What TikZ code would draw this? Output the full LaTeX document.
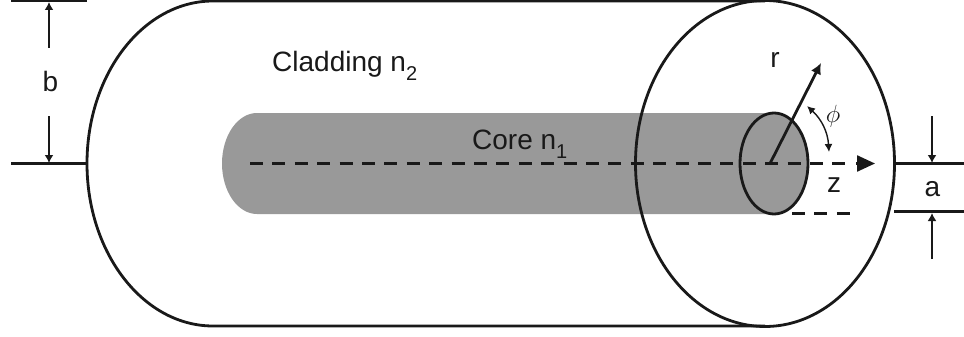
\documentclass[tikz,border=0pt]{standalone}
\usepackage{fontspec}
\setmainfont{Liberation Sans}
\usetikzlibrary{arrows.meta, shapes.geometric}
\newcommand{\subidx}[1]{\raisebox{-9pt}{\fontsize{20}{22}\selectfont #1}}
\tikzset{
	wall/.style={line width=2.8pt, black!90},
	ring/.style={draw, ellipse, line width=2.8pt, black!90, inner sep=0pt},
	dim/.style={line width=2.2pt, black!90, -{Latex[length=8pt, width=9pt]}},
	axis/.style={line width=3pt, black!90, dash pattern=on 13pt off 9.4pt},
	tag/.style={font=\fontsize{28}{30}\selectfont, inner sep=0pt, text=black!90},
}
\begin{document}
\begin{tikzpicture}[x=1pt, y=-1pt]
		\useasboundingbox (0,0) rectangle (964,337);
		% core
		\fill [black!40] (774,113) -- (257,113)
		arc [start angle=90, end angle=270, x radius=35, y radius=-50.5] -- (774,214) -- cycle;
		% cladding
		\draw [wall] (765,1) -- (213,1) arc [start angle=90, end angle=270, x radius=126, y radius=-162.5] -- (765,326);
		\node (shell) at (765,163.5) [ring, minimum width=259pt, minimum height=326pt] {};
		\node (fibre) at (774,163.5) [ring, fill=black!40, minimum width=68pt, minimum height=101pt] {};
		% axes
		\coordinate (o) at (770,163.5);
		\draw [axis] (250,163.5) -- (847,163.5);
		\draw [black!90, -{Triangle[length=18pt, width=16pt]}, line width=2.4pt] (856,163.5) -- (875,163.5);
		\draw [axis] (792,213) -- (850,213);
		\draw [line width=2.8pt, black!90, -{Latex[length=11pt, width=11pt]}] (o) -- (821,63);
		\draw [line width=1.4pt, black!90, {Latex[length=8pt, width=8pt]}-{Latex[length=8pt, width=8pt]}] (807,106) to [bend left=22] (829,152);
		% dimension a
		\draw [wall] (shell.east) -- ++(70,0);
		\coordinate (alow) at (894,211.5);
		\draw [wall] (alow) -- (964,211.5);
		\draw [dim] (932,116) -- (932,163);
		\draw [dim] (932,259) -- (932,213);
		% dimension b
		\draw [wall] (11,1) -- (87,1);
		\draw [wall] (11,163.5) -- (87,163.5);
		\draw [dim] (49,48) -- (49,2);
		\draw [dim] (49,116) -- (49,163);
		% labels
		\node [tag, anchor=base west] (clad) at (272,72) {Cladding n\subidx{2}};
		\node [tag, anchor=base west] (core) at (472,149) {Core n\subidx{1}};
		\node [tag] (r) at (775,59.5) {r};
		\node [tag] (z) at (834,185) {z};
		\node [tag, font=\fontsize{25}{27}\selectfont] (phi) at (833,116) {$\phi$};
		\node [tag] (a) at (932.5,189.5) {a};
		\node [tag] (b) at (50.5,81.5) {b};
	\end{tikzpicture}
\end{document}
